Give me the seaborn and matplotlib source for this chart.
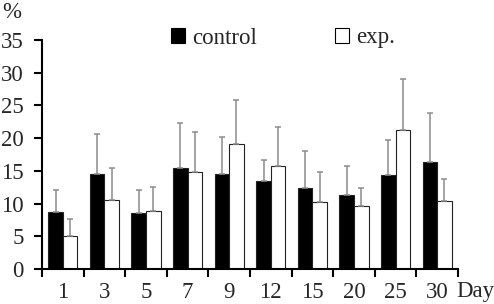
import matplotlib
matplotlib.use("Agg")
import matplotlib.pyplot as plt
import seaborn as sns
import pandas as pd
import numpy as np
from matplotlib.patches import Patch

days = ["1", "3", "5", "7", "9", "12", "15", "20", "25", "30"]
control = [8.7, 14.5, 8.6, 15.5, 14.5, 13.4, 12.4, 11.3, 14.4, 16.4]
control_err = [3.3, 6.1, 3.4, 6.8, 5.6, 3.3, 5.7, 4.4, 5.3, 7.5]
exp = [5.0, 10.5, 8.9, 14.8, 19.1, 15.7, 10.2, 9.7, 21.3, 10.4]
exp_err = [2.7, 5.0, 3.7, 6.2, 6.8, 6.0, 4.7, 2.7, 7.7, 3.3]
groups = ["control", "exp."]

df = pd.DataFrame({
    "day": days * 2,
    "value": control + exp,
    "err": control_err + exp_err,
    "group": [groups[0]] * len(days) + [groups[1]] * len(days),
})

sns.set_style("white")
plt.rcParams["font.family"] = ["Liberation Serif", "DejaVu Serif"]
FS = 16.5

fig = plt.figure(figsize=(4.94, 3.04), dpi=100)
ax = fig.add_axes([42 / 494, 35 / 304, 416 / 494, 229 / 304])

sns.barplot(data=df, x="day", y="value", hue="group", order=days,
            hue_order=groups, palette=["black", "white"], width=0.7,
            errorbar=None, edgecolor="#222222", linewidth=0.8, legend=False,
            ax=ax)

# upward-only error bars at bar centres
for container, g in zip(ax.containers, groups):
    sub = df[df["group"] == g].set_index("day").loc[days]
    xs = [p.get_x() + p.get_width() / 2 for p in container.patches]
    hs = [p.get_height() for p in container.patches]
    errs = sub["err"].values
    ax.errorbar(xs, hs, yerr=[np.zeros(len(errs)), errs], fmt="none",
                ecolor="#8c8c8c", elinewidth=1.1, capsize=2.5, capthick=1.1,
                zorder=1)

ax.set_ylim(0, 35)
ax.set_xlim(-0.5, len(days) - 0.5)
ax.set_yticks(range(0, 36, 5))
ax.set_yticklabels([str(v) for v in range(0, 36, 5)], fontsize=FS)
ax.set_xticks(np.arange(-0.5, len(days), 1.0))
ax.set_xticklabels([])
ax.set_xticks(np.arange(len(days)), minor=True)
ax.set_xticklabels(days, minor=True, fontsize=FS)
ax.tick_params(axis="x", which="major", direction="out", length=6, width=1.5,
               color="black", bottom=True)
ax.tick_params(axis="x", which="minor", length=0, pad=9.5)
ax.tick_params(axis="y", direction="out", length=6, width=1.5, color="black",
               left=True, pad=7)
ax.set_xlabel("")
ax.set_ylabel("")
for s in ["top", "right"]:
    ax.spines[s].set_visible(False)
for s in ["left", "bottom"]:
    ax.spines[s].set_color("black")
    ax.spines[s].set_linewidth(1.5)

fig.text(2 / 494, 1 - 12 / 304, "%", fontsize=FS, va="center", ha="left")
fig.text(456 / 494, 1 - 292 / 304, "Day", fontsize=FS, va="center", ha="left")

handles = [Patch(facecolor="black", edgecolor="black", linewidth=0.8),
           Patch(facecolor="white", edgecolor="black", linewidth=0.8)]
fig.legend(handles, groups, loc="center left",
           bbox_to_anchor=(171 / 494, 1 - 38 / 304), ncol=2, frameon=False,
           fontsize=FS, handlelength=0.62, handleheight=0.62,
           handletextpad=0.3, columnspacing=3.4, borderpad=0,
           borderaxespad=0)

fig.savefig("out.png", dpi=100)
